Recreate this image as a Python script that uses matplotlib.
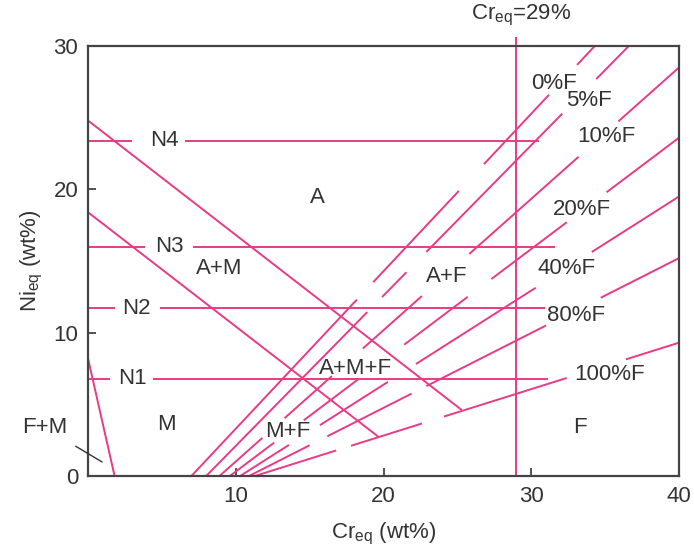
import matplotlib
matplotlib.use("Agg")
import matplotlib.pyplot as plt

plt.rcParams["font.family"] = ["Liberation Sans", "DejaVu Sans"]
plt.rcParams["mathtext.fontset"] = "custom"
plt.rcParams["mathtext.rm"] = "Liberation Sans"
plt.rcParams["mathtext.it"] = "Liberation Sans:italic"

PINK = "#e83a86"
INK = "#333333"
FS = 16

# iso-ferrite lines: Cr_eq where they leave Ni_eq = 0, and where they end
ferrite_pct = [0, 5, 10, 20, 40, 80, 100]
ferrite_cr0 = [7.0, 8.0, 8.9, 9.6, 10.3, 10.9, 11.3]
ferrite_cr1 = [34.3, 36.6, 40.0, 40.0, 40.0, 40.0, 40.0]
ferrite_ni1 = [30.0, 30.0, 28.5, 23.6, 19.5, 15.2, 9.3]

# Ni_eq levels of the N1..N4 compositions and where each line stops
n_names = ["N1", "N2", "N3", "N4"]
n_ni = [6.8, 11.7, 16.0, 23.4]
n_cr_end = [31.1, 30.9, 31.6, 30.5]

# austenite / martensite boundaries (start on the Ni axis, end on 100%F)
am_ni0 = [24.8, 18.4]
am_cr1 = [25.3, 19.7]
am_ni1 = [4.6, 2.7]

# ferrite + martensite boundary near the origin
fm_ni0 = 8.2
fm_cr1 = 1.8

cr_limit = 29

# broken stretches of each line (Cr_eq ranges), mostly where labels sit
ferrite_gaps = [
    [(18.2, 19.3), (25.1, 26.8), (31.2, 33.1)],
    [(18.9, 19.9), (21.55, 22.9), (32.1, 34.4)],
    [(11.8, 13.3), (16.5, 18.6), (22.6, 25.8), (33.2, 35.9)],
    [(12.6, 14.6), (18.3, 21.4), (25.7, 27.3), (32.4, 35.1)],
    [(13.6, 15.7), (20.3, 22.2), (30.3, 34.1)],
    [(15.0, 16.2), (21.9, 22.9), (31.0, 34.7)],
    [(16.8, 17.8), (22.6, 24.1), (32.4, 36.4)],
]
n_gaps = [(1.5, 4.4), (1.8, 4.9), (3.85, 7.1), (3.0, 6.55)]


def broken_line(ax, x0, y0, x1, y1, gaps, **kw):
    """Straight line from (x0, y0) to (x1, y1) with gaps given in x."""
    slope = (y1 - y0) / (x1 - x0)
    edges = [x0]
    for a, b in gaps:
        edges += [a, b]
    edges.append(x1)
    for a, b in zip(edges[::2], edges[1::2]):
        ax.plot([a, b], [y0 + slope * (a - x0), y0 + slope * (b - x0)], **kw)


fig = plt.figure(figsize=(6.94, 5.52), dpi=100)
ax = fig.add_axes([0.1268, 0.1377, 0.8516, 0.779])
line_kw = dict(color=PINK, lw=1.4, solid_capstyle="butt")

for cr0, cr1, ni1, gaps in zip(ferrite_cr0, ferrite_cr1, ferrite_ni1, ferrite_gaps):
    broken_line(ax, cr0, 0, cr1, ni1, gaps, **line_kw)

for ni, cr_end, gap in zip(n_ni, n_cr_end, n_gaps):
    broken_line(ax, 0, ni, cr_end, ni, [gap], **line_kw)

for ni0, cr1, ni1 in zip(am_ni0, am_cr1, am_ni1):
    ax.plot([0, cr1], [ni0, ni1], **line_kw)

ax.plot([0, fm_cr1], [fm_ni0, 0], **line_kw)
ax.plot([cr_limit, cr_limit], [0, 30.6], clip_on=False, **line_kw)

ax.set_xlim(0, 40)
ax.set_ylim(0, 30)
ax.set_xticks([10, 20, 30, 40])
ax.set_yticks([0, 10, 20, 30])
ax.tick_params(direction="in", length=6, width=1.2, colors=INK, labelsize=FS, pad=7)
for s in ax.spines.values():
    s.set_color("#444444")
    s.set_linewidth(1.6)

ax.set_xlabel(r"Cr$_{\rm eq}$ (wt%)", fontsize=FS, color=INK, labelpad=10)
ax.set_ylabel(r"Ni$_{\rm eq}$ (wt%)", fontsize=FS, color=INK, labelpad=6)

txt = dict(fontsize=FS, color=INK, ha="center", va="center")
ax.text(cr_limit + 0.3, 32.1, r"Cr$_{\rm eq}$=%d%%" % cr_limit, clip_on=False, **txt)

# phase fields
ax.text(15.5, 19.4, "A", **txt)
ax.text(8.85, 14.5, "A+M", **txt)
ax.text(24.25, 13.95, "A+F", **txt)
ax.text(18.1, 7.5, "A+M+F", **txt)
ax.text(13.5, 3.07, "M+F", **txt)
ax.text(5.3, 3.56, "M", **txt)
ax.text(33.3, 3.35, "F", **txt)
ax.annotate("F+M", xy=(0.95, 0.98), xytext=(-2.9, 3.35), annotation_clip=False,
            arrowprops=dict(arrowstyle="-", color=INK, lw=1.0, shrinkA=7, shrinkB=0),
            **txt)

# composition labels
n_label_x = [3.0, 3.3, 5.5, 5.2]
for name, ni, x in zip(n_names, n_ni, n_label_x):
    ax.text(x, ni, name, **txt)

# ferrite content labels
pct_x = [31.55, 33.9, 35.1, 33.45, 32.4, 33.0, 35.3]
pct_y = [27.4, 26.2, 23.65, 18.56, 14.5, 11.2, 7.05]
for pct, x, y in zip(ferrite_pct, pct_x, pct_y):
    ax.text(x, y, "%d%%F" % pct, **txt)

fig.savefig("out.png", dpi=100)
